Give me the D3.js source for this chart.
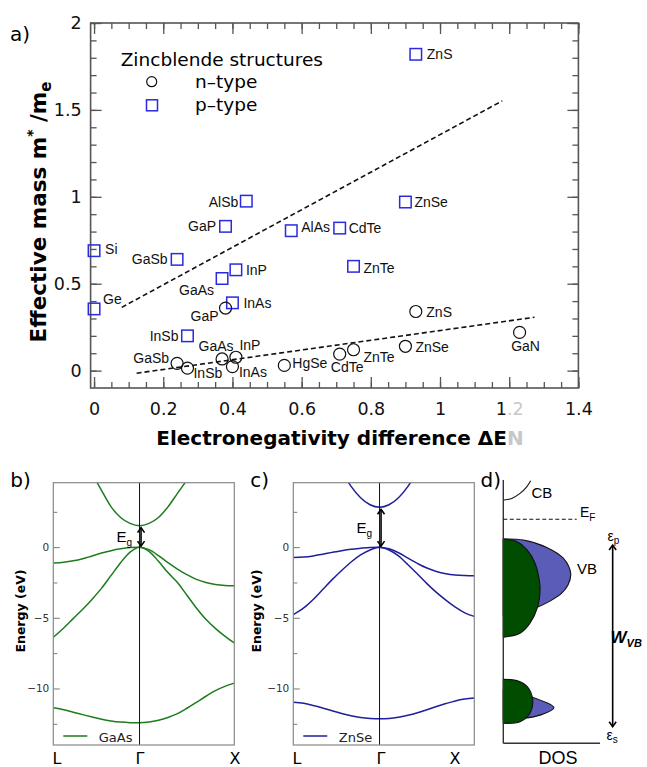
<!DOCTYPE html>
<html>
<head>
<meta charset="utf-8">
<script src="https://cdn.jsdelivr.net/npm/d3@7"></script>
<style>
  body { margin: 0; background: #fff; }
  text { font-family: "DejaVu Sans", sans-serif; }
  .lbl { font-family: "Liberation Sans", Arial, sans-serif; }
</style>
</head>
<body>
<svg id="fig" width="647" height="767"></svg>
<script>
// ---------- data: panel a ----------
var pNames = ["ZnS", "ZnSe", "AlSb", "GaP", "AlAs", "CdTe", "Si", "GaSb", "ZnTe", "InP", "GaAs", "InAs", "Ge", "InSb"];
var pEN    = [0.93, 0.90, 0.44, 0.38, 0.57, 0.71, 0.00, 0.24, 0.75, 0.41, 0.37, 0.40, 0.00, 0.27];
var pMass  = [1.82, 0.97, 0.975, 0.83, 0.805, 0.82, 0.69, 0.64, 0.60, 0.58, 0.53, 0.39, 0.355, 0.20];

var nNames = ["GaP", "ZnS", "GaN", "ZnSe", "ZnTe", "CdTe", "HgSe", "InP", "GaAs", "InAs", "GaSb", "InSb"];
var nEN    = [0.38, 0.93, 1.23, 0.90, 0.75, 0.71, 0.55, 0.41, 0.37, 0.40, 0.24, 0.27];
var nMass  = [0.36, 0.34, 0.22, 0.14, 0.12, 0.095, 0.03, 0.077, 0.067, 0.023, 0.042, 0.014];

// dashed trend lines (end points)
var fitPEN = [0.08, 1.18], fitPMass = [0.364, 1.552];
var fitNEN = [0.123, 1.273], fitNMass = [-0.015, 0.307];

var xMajor = [0, 0.2, 0.4, 0.6, 0.8, 1, 1.2, 1.4];
var xTickLabels = ["0", "0.2", "0.4", "0.6", "0.8", "1", "1.2", "1.4"];
var yMajor = [0, 0.5, 1, 1.5, 2];
var yTickLabels = ["0", "0.5", "1", "1.5", "2"];

// ---------- data: band structures (b, c) ----------
var kVB = [-0.91, -0.8, -0.7, -0.6, -0.5, -0.4, -0.3, -0.2, -0.1, 0, 0.1, 0.2, 0.3, 0.4, 0.5, 0.6, 0.7, 0.8, 0.9, 1];
var kCB = [-0.5, -0.4, -0.3, -0.2, -0.1, 0, 0.1, 0.2, 0.3, 0.4, 0.5];

var gaasCB  = [5.2, 4.0, 2.85, 2.1, 1.68, 1.52, 1.68, 2.1, 2.85, 3.8, 4.75];
var gaasVB1 = [-1.13, -1.07, -0.97, -0.82, -0.62, -0.42, -0.25, -0.12, -0.03, 0, -0.18, -0.6, -1.1, -1.55, -1.95, -2.28, -2.5, -2.64, -2.71, -2.73];
var gaasVB2 = [-6.38, -5.72, -5.06, -4.4, -3.68, -2.9, -2.0, -1.1, -0.35, 0, -0.3, -1.0, -1.8, -2.5, -3.4, -4.3, -5.1, -5.75, -6.3, -6.78];
var gaasS   = [-11.37, -11.5, -11.68, -11.85, -12.02, -12.18, -12.3, -12.38, -12.42, -12.43, -12.38, -12.25, -12.05, -11.78, -11.4, -10.98, -10.55, -10.15, -9.85, -9.62];

var znseCB  = [6.7, 5.4, 4.3, 3.5, 3.0, 2.82, 3.0, 3.5, 4.3, 5.4, 6.7];
var znseVB1 = [-0.73, -0.7, -0.62, -0.5, -0.37, -0.25, -0.15, -0.08, -0.02, 0, -0.12, -0.4, -0.78, -1.15, -1.48, -1.72, -1.88, -1.97, -2.01, -2.03];
var znseVB2 = [-4.78, -4.3, -3.7, -3.0, -2.3, -1.65, -1.05, -0.55, -0.2, 0, -0.2, -0.62, -1.25, -1.9, -2.58, -3.2, -3.75, -4.25, -4.65, -4.9];
var znseS   = [-10.97, -11.05, -11.2, -11.38, -11.58, -11.77, -11.93, -12.05, -12.12, -12.15, -12.12, -12.03, -11.9, -11.72, -11.5, -11.28, -11.07, -10.88, -10.75, -10.67];

var eMajor = [0, -5, -10];
var eMinor = [2.5, -2.5, -7.5, -12.5];

// ---------- data: schematic DOS (d), fractions of the panel ----------
var greenUpY = [0.776, 0.766, 0.734, 0.684, 0.620, 0.582, 0.519, 0.456, 0.418, 0.403];
var greenUpD = [0, 0.139, 0.248, 0.328, 0.372, 0.380, 0.356, 0.276, 0.173, 0];
var blueUpY  = [0.776, 0.772, 0.744, 0.703, 0.646, 0.601, 0.570, 0.540, 0.519, 0.499, 0.487];
var blueUpD  = [0, 0.207, 0.449, 0.620, 0.697, 0.669, 0.604, 0.483, 0.362, 0.173, 0];
var greenLoY = [0.243, 0.238, 0.215, 0.164, 0.114, 0.082, 0.076];
var greenLoD = [0, 0.139, 0.248, 0.304, 0.276, 0.173, 0];
var blueLoY  = [0.202, 0.175, 0.135, 0.107, 0.095, 0.091];
var blueLoD  = [0, 0.300, 0.524, 0.380, 0.207, 0];
var cbY = [0.924, 0.930, 0.949, 0.974, 0.997];
var cbD = [0.007, 0.087, 0.173, 0.242, 0.283];

// label placement for panel a: [dx, dy, anchor]
var pLab = {ZnS: [11, 5, "start"], ZnSe: [9, 5, "start"], AlSb: [-8, 5.5, "end"], GaP: [-9.5, 5, "end"],
  AlAs: [10, 1, "start"], CdTe: [9, 4.5, "start"], Si: [11, 3.5, "start"], GaSb: [-9.5, 5, "end"],
  ZnTe: [10, 6.5, "start"], InP: [10, 5.5, "start"], GaAs: [-8, 16, "end"], InAs: [11, 5.5, "start"],
  Ge: [9, -4.5, "start"], InSb: [-9, 5, "end"]};
var nLab = {GaP: [-7, 13, "end"], ZnS: [10.5, 5, "start"], GaN: [6, 19, "middle"], ZnSe: [10, 5.5, "start"],
  ZnTe: [10, 12.5, "start"], CdTe: [7.5, 17.5, "middle"], HgSe: [8, 2.5, "start"], InP: [3.5, -7.5, "start"],
  GaAs: [-6, -7.5, "middle"], InAs: [6.5, 10, "start"], GaSb: [-8, 0, "end"], InSb: [6, 10, "start"]};

var svg = d3.select("#fig");

// ================= panel a =================
var xA = d3.scaleLinear().domain([-0.01, 1.4]).range([90.6, 578.4]);
var yA = d3.scaleLinear().domain([-0.1, 2]).range([388, 23]);
var gA = svg.append("g");
var frameCol = "#555";

function axisLayer(axis, tx, ty) {
  var g = gA.append("g").attr("transform", `translate(${tx},${ty})`).call(axis);
  g.select(".domain").remove();
  g.selectAll(".tick line").attr("stroke", frameCol).attr("stroke-width", 1.3);
  g.selectAll(".tick text").attr("fill", "#111").style("font", "17.5px 'DejaVu Sans'");
  return g;
}
var xMinor = d3.range(0, 1.401, 0.05), yMinor = d3.range(0, 2.001, 0.1);

axisLayer(d3.axisBottom(xA).tickValues(xMinor).tickSize(-6).tickFormat(""), 0, 388);
var xAx = axisLayer(d3.axisBottom(xA).tickValues(xMajor).tickSize(-11).tickPadding(15)
  .tickFormat((d, i) => xTickLabels[i]), 0, 388);
axisLayer(d3.axisTop(xA).tickValues(xMinor).tickSize(-6).tickFormat(""), 0, 23);
axisLayer(d3.axisTop(xA).tickValues(xMajor).tickSize(-11).tickFormat(""), 0, 23);
axisLayer(d3.axisLeft(yA).tickValues(yMinor).tickSize(-6).tickFormat(""), 90.6, 0);
axisLayer(d3.axisLeft(yA).tickValues(yMajor).tickSize(-11).tickPadding(9)
  .tickFormat((d, i) => yTickLabels[i]), 90.6, 0);
axisLayer(d3.axisRight(yA).tickValues(yMinor).tickSize(-6).tickFormat(""), 578.4, 0);
axisLayer(d3.axisRight(yA).tickValues(yMajor).tickSize(-11).tickFormat(""), 578.4, 0);

// faded ".2" in the 1.2 label
xAx.selectAll(".tick text").filter(d => d === 1.2).text("").call(t => {
  t.append("tspan").attr("fill", "#111").text("1");
  t.append("tspan").attr("fill", "#c8c8c8").text(".2");
});

gA.append("rect").attr("x", 90.6).attr("y", 23).attr("width", 487.8).attr("height", 365)
  .attr("fill", "none").attr("stroke", frameCol).attr("stroke-width", 1.6);

// trend lines
[[fitPEN, fitPMass], [fitNEN, fitNMass]].forEach(function(f) {
  gA.append("line")
    .attr("x1", xA(f[0][0])).attr("y1", yA(f[1][0]))
    .attr("x2", xA(f[0][1])).attr("y2", yA(f[1][1]))
    .attr("stroke", "#111").attr("stroke-width", 1.6).attr("stroke-dasharray", "5,3");
});

// p-type squares
var sq = 11.5;
pNames.forEach(function(name, i) {
  var cx = xA(pEN[i]), cy = yA(pMass[i]);
  gA.append("rect").attr("x", cx - sq / 2).attr("y", cy - sq / 2).attr("width", sq).attr("height", sq)
    .attr("fill", "none").attr("stroke", "#2a2ae0").attr("stroke-width", 1.5);
  var L = pLab[name];
  gA.append("text").attr("class", "lbl").attr("x", cx + L[0]).attr("y", cy + L[1])
    .attr("text-anchor", L[2]).attr("font-size", 14).attr("fill", "#111").text(name);
});
// n-type circles
nNames.forEach(function(name, i) {
  var cx = xA(nEN[i]), cy = yA(nMass[i]);
  gA.append("circle").attr("cx", cx).attr("cy", cy).attr("r", 6)
    .attr("fill", "none").attr("stroke", "#111").attr("stroke-width", 1.2);
  var L = nLab[name];
  gA.append("text").attr("class", "lbl").attr("x", cx + L[0]).attr("y", cy + L[1])
    .attr("text-anchor", L[2]).attr("font-size", 14).attr("fill", "#111").text(name);
});

// legend
gA.append("text").attr("x", 120.7).attr("y", 66).attr("font-size", 18.5).text("Zincblende structures");
gA.append("circle").attr("cx", 151.7).attr("cy", 81.7).attr("r", 5)
  .attr("fill", "none").attr("stroke", "#111").attr("stroke-width", 1.2);
gA.append("text").attr("x", 195).attr("y", 87.5).attr("font-size", 18.5).text("n\u2013type");
gA.append("rect").attr("x", 152 - 5.5).attr("y", 105.3 - 5.5).attr("width", 11).attr("height", 11)
  .attr("fill", "none").attr("stroke", "#2a2ae0").attr("stroke-width", 1.5);
gA.append("text").attr("x", 195).attr("y", 110.5).attr("font-size", 18.5).text("p\u2013type");

// axis titles
var xt = gA.append("text").attr("x", 340).attr("y", 445).attr("text-anchor", "middle")
  .attr("font-size", 20).attr("font-weight", "bold").text("Electronegativity difference \u0394E");
xt.append("tspan").attr("fill", "#c8c8c8").text("N");

var yt = gA.append("text").attr("transform", "translate(46,212) rotate(-90)").attr("text-anchor", "middle")
  .attr("font-size", 21.5).attr("font-weight", "bold");
yt.append("tspan").text("Effective mass m");
yt.append("tspan").attr("dy", -9).attr("font-size", 14).text("*");
yt.append("tspan").attr("dy", 9).text(" /m");
yt.append("tspan").attr("dy", 5).attr("font-size", 15).text("e");

gA.append("text").attr("x", 10).attr("y", 41).attr("font-size", 20).text("a)");

// ================= panels b, c =================
var eScale = d3.scaleLinear().domain([-14, 4.56]).range([745, 482.7]);

function bandPanel(x0, x1, col, cb, vb1, vb2, s, name, gap, yLabX, xLabs, tag) {
  var kx = d3.scaleLinear().domain([-0.91, 1]).range([x0, x1]);
  var g = svg.append("g");
  var clipId = "clip" + tag;
  svg.append("clipPath").attr("id", clipId).append("rect")
    .attr("x", x0).attr("y", eScale(4.56)).attr("width", x1 - x0).attr("height", eScale(-14) - eScale(4.56));

  // ticks
  var ax = g.append("g").attr("transform", `translate(${x0},0)`)
    .call(d3.axisLeft(eScale).tickValues(eMajor).tickSize(-6.5).tickPadding(4)
      .tickFormat(d => d < 0 ? "\u2212" + Math.abs(d) : d));
  ax.select(".domain").remove();
  ax.selectAll(".tick line").attr("stroke", "#777");
  ax.selectAll(".tick text").attr("fill", "#333").style("font", "10.5px 'DejaVu Sans'");
  var axm = g.append("g").attr("transform", `translate(${x0},0)`)
    .call(d3.axisLeft(eScale).tickValues(eMinor).tickSize(-4).tickFormat(""));
  axm.select(".domain").remove();
  axm.selectAll(".tick line").attr("stroke", "#777");

  var line = d3.line().x(d => kx(d[0])).y(d => eScale(d[1])).curve(d3.curveMonotoneX);
  var bg = g.append("g").attr("clip-path", `url(#${clipId})`);
  [[kCB, cb], [kVB, vb1], [kVB, vb2], [kVB, s]].forEach(function(b) {
    bg.append("path").datum(b[0].map((k, i) => [k, b[1][i]])).attr("d", line)
      .attr("fill", "none").attr("stroke", col).attr("stroke-width", 1.5);
  });

  // Gamma line and frame
  g.append("line").attr("x1", kx(0)).attr("x2", kx(0)).attr("y1", eScale(4.56)).attr("y2", eScale(-14))
    .attr("stroke", "#111").attr("stroke-width", 1);
  g.append("rect").attr("x", x0).attr("y", eScale(4.56)).attr("width", x1 - x0)
    .attr("height", eScale(-14) - eScale(4.56)).attr("fill", "none").attr("stroke", "#888").attr("stroke-width", 1.2);

  // band gap arrow
  g.append("line").attr("x1", kx(0) + 1.5).attr("x2", kx(0) + 1.5)
    .attr("y1", eScale(gap) + 2).attr("y2", eScale(0) - 1)
    .attr("stroke", "#000").attr("stroke-width", 1.6)
    .attr("marker-start", "url(#arrS)").attr("marker-end", "url(#arrE)");
  var eg = g.append("text").attr("class", "lbl").attr("x", kx(0) - 23)
    .attr("y", (eScale(gap) + eScale(0)) / 2 + 6).attr("font-size", 15);
  eg.append("tspan").text("E");
  eg.append("tspan").attr("dy", 4).attr("font-size", 10).text("g");

  // legend
  g.append("line").attr("x1", x0 + 10).attr("x2", x0 + 34).attr("y1", 736).attr("y2", 736)
    .attr("stroke", col).attr("stroke-width", 1.5);
  g.append("text").attr("x", x0 + 45.5).attr("y", 741.5).attr("font-size", 13).attr("fill", "#222").text(name);

  // y label
  g.append("text").attr("transform", `translate(${yLabX},611) rotate(-90)`).attr("text-anchor", "middle")
    .attr("font-size", 12.5).attr("font-weight", "bold").text("Energy (eV)");

  // k labels
  ["L", "\u0393", "X"].forEach(function(t, i) {
    g.append("text").attr("x", xLabs[i]).attr("y", 764).attr("text-anchor", "middle")
      .attr("font-size", 16).text(t);
  });
  g.append("text").attr("x", x0 - 43).attr("y", 487).attr("font-size", 20).text(tag + ")");
}

var defs = svg.append("defs");
defs.append("marker").attr("id", "arrE").attr("viewBox", "-8 -5 10 10").attr("refX", 0).attr("refY", 0)
  .attr("markerWidth", 10).attr("markerHeight", 10).attr("markerUnits", "userSpaceOnUse").attr("orient", "auto")
  .append("path").attr("d", "M-5,-3.5 L0,0 L-5,3.5").attr("fill", "none").attr("stroke", "#000").attr("stroke-width", 1.6);
defs.append("marker").attr("id", "arrS").attr("viewBox", "-2 -5 10 10").attr("refX", 0).attr("refY", 0)
  .attr("markerWidth", 10).attr("markerHeight", 10).attr("markerUnits", "userSpaceOnUse").attr("orient", "auto")
  .append("path").attr("d", "M5,-3.5 L0,0 L5,3.5").attr("fill", "none").attr("stroke", "#000").attr("stroke-width", 1.6);

bandPanel(53.3, 234.3, "#1e7b1e", gaasCB, gaasVB1, gaasVB2, gaasS, "GaAs", 1.52, 25, [57, 140, 235], "b");
bandPanel(293.3, 474.3, "#1f1f9a", znseCB, znseVB1, znseVB2, znseS, "ZnSe", 2.82, 261, [297, 381, 455], "c");

// ================= panel d =================
var xD = d3.scaleLinear().domain([0, 1]).range([503.3, 600]);
var yD = d3.scaleLinear().domain([0, 1]).range([743.3, 480]);
var gD = svg.append("g");
var lobe = d3.line().x(d => xD(d[0])).y(d => yD(d[1])).curve(d3.curveCatmullRom.alpha(0.5));
function drawLobe(ds, ys, fill) {
  gD.append("path").attr("d", lobe(ds.map((v, i) => [v, ys[i]])) + "Z")
    .attr("fill", fill).attr("stroke", "#111").attr("stroke-width", 1.1);
}
drawLobe(blueUpD, blueUpY, "#5b5bb8");
drawLobe(greenUpD, greenUpY, "#004d00");
drawLobe(blueLoD, blueLoY, "#5b5bb8");
drawLobe(greenLoD, greenLoY, "#004d00");

gD.append("path").attr("d", d3.line().x(d => xD(d[0])).y(d => yD(d[1])).curve(d3.curveCatmullRom)(cbD.map((v, i) => [v, cbY[i]])))
  .attr("fill", "none").attr("stroke", "#111").attr("stroke-width", 1.1);

// axes
gD.append("line").attr("x1", xD(0)).attr("x2", xD(0)).attr("y1", yD(1)).attr("y2", yD(0))
  .attr("stroke", "#333").attr("stroke-width", 1.4);
gD.append("line").attr("x1", xD(0)).attr("x2", xD(1)).attr("y1", yD(0)).attr("y2", yD(0))
  .attr("stroke", "#333").attr("stroke-width", 1.4);

// Fermi level
gD.append("line").attr("x1", xD(0)).attr("x2", xD(0.759)).attr("y1", yD(0.851)).attr("y2", yD(0.851))
  .attr("stroke", "#111").attr("stroke-width", 1.2).attr("stroke-dasharray", "4,2.5");

// W_VB arrow
gD.append("line").attr("x1", xD(1.131)).attr("x2", xD(1.131)).attr("y1", yD(0.753)).attr("y2", yD(0.063))
  .attr("stroke", "#000").attr("stroke-width", 1.6)
  .attr("marker-start", "url(#arrS)").attr("marker-end", "url(#arrE)");

gD.append("text").attr("class", "lbl").attr("x", 531.5).attr("y", 497.5).attr("font-size", 15).text("CB");
var ef = gD.append("text").attr("class", "lbl").attr("x", 580).attr("y", 516.5).attr("font-size", 14);
ef.append("tspan").text("E");
ef.append("tspan").attr("dy", 4).attr("font-size", 10).text("F");
gD.append("text").attr("class", "lbl").attr("x", 577).attr("y", 573.5).attr("font-size", 15).text("VB");
var ep = gD.append("text").attr("class", "lbl").attr("x", 607.5).attr("y", 540.5).attr("font-size", 14);
ep.append("tspan").text("\u03b5");
ep.append("tspan").attr("dy", 3).attr("font-size", 10).text("p");
var es = gD.append("text").attr("class", "lbl").attr("x", 606.5).attr("y", 740).attr("font-size", 14);
es.append("tspan").text("\u03b5");
es.append("tspan").attr("dy", 3).attr("font-size", 10).text("s");
var w = gD.append("text").attr("class", "lbl").attr("x", 610.5).attr("y", 643).attr("font-size", 17)
  .attr("font-weight", "bold").attr("font-style", "italic");
w.append("tspan").text("W");
w.append("tspan").attr("dy", 4).attr("font-size", 11).text("VB");
gD.append("text").attr("class", "lbl").attr("x", 558).attr("y", 764).attr("text-anchor", "middle")
  .attr("font-size", 18).text("DOS");
gD.append("text").attr("x", 480.5).attr("y", 487).attr("font-size", 20).text("d)");
</script>
</body>
</html>
